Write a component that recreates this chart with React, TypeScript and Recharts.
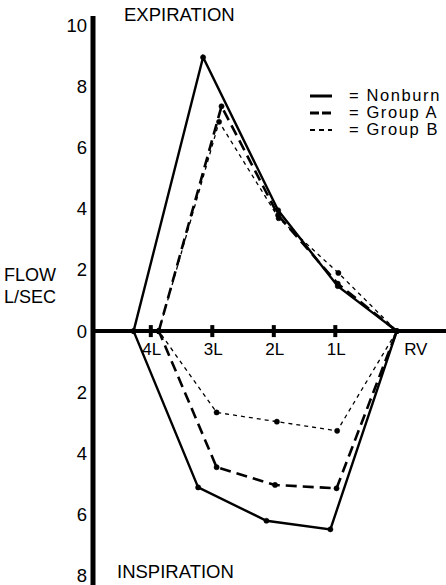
import { Line, LineChart, ReferenceDot, ReferenceLine, XAxis, YAxis } from "recharts";

// volume in litres above RV (RV = 0), flow in L/sec (inspiration negative)
const nonburnVol = [4.28, 3.15, 1.93, 0.96, 0, 1.08, 2.12, 3.23, 4.28];
const nonburnFlow = [0, 8.95, 3.95, 1.47, 0, -6.48, -6.2, -5.11, 0];

const groupAVol = [3.87, 2.85, 1.93, 0.96, 0, 0.98, 1.98, 2.93, 3.87];
const groupAFlow = [0, 7.35, 3.79, 1.55, 0, -5.14, -5.03, -4.45, 0];

const groupBVol = [3.87, 2.89, 1.92, 0.95, 0, 0.97, 1.95, 2.93, 3.87];
const groupBFlow = [0, 6.84, 3.69, 1.9, 0, -3.26, -2.96, -2.66, 0];

const volTicks = [4, 3, 2, 1, 0];
const volLabels = ["4L", "3L", "2L", "1L", "RV"];
const flowTicks = [-8, -6, -4, -2, 0, 2, 4, 6, 8, 10];

const font = "'Liberation Sans', Arial, Helvetica, sans-serif";

const toPoints = (vol: number[], flow: number[]) =>
  vol.map((v, i) => ({ vol: v, flow: flow[i] }));

const series = [
  { name: "Nonburn", data: toPoints(nonburnVol, nonburnFlow), width: 2.4, dash: undefined, legendDash: undefined },
  { name: "Group A", data: toPoints(groupAVol, groupAFlow), width: 2.6, dash: "11 6", legendDash: "9 3" },
  { name: "Group B", data: toPoints(groupBVol, groupBFlow), width: 1.3, dash: "4 4", legendDash: "5 4" },
];

const TickMark = (props: any) => {
  if (props.hidden) return <g />;
  return <rect x={props.cx - 2} y={props.cy - 6} width={4} height={12} fill="#000" />;
};

export default function App() {
  return (
    <div style={{ position: "absolute", left: 0, top: 0, width: 446, height: 585, background: "#fff", fontFamily: font }}>
      <LineChart width={446} height={585} margin={{ top: 16, right: 0, bottom: 0, left: 0 }}>
        <XAxis
          allowDataOverflow
          dataKey="vol"
          domain={[-0.8, 4.94]}
          hide
          reversed
          type="number"
        />
        <YAxis
          allowDataOverflow
          axisLine={{ stroke: "#000", strokeWidth: 5 }}
          domain={[-8.3, 10.3]}
          interval={0}
          tick={{ fill: "#000", fontSize: 18.5, fontFamily: font }}
          tickFormatter={(v: number) => String(Math.abs(v))}
          tickLine={false}
          tickMargin={0}
          ticks={flowTicks}
          type="number"
          width={93}
        />
        {series.map((s) => (
          <Line
            key={s.name}
            data={s.data}
            dataKey="flow"
            dot={{ r: 2.6, fill: "#000", stroke: "#000", strokeWidth: 0.5, strokeDasharray: "none" }}
            isAnimationActive={false}
            name={s.name}
            stroke="#000"
            strokeDasharray={s.dash}
            strokeWidth={s.width}
            type="linear"
          />
        ))}
        <ReferenceLine stroke="#000" strokeWidth={4} y={0} />
        {volTicks.map((v, i) => (
          <ReferenceDot
            key={v}
            label={{
              value: volLabels[i],
              position: "bottom",
              offset: 6,
              fill: "#000",
              fontSize: 17,
              fontFamily: font,
              dx: v === 0 ? 19 : 1,
            }}
            r={6}
            shape={(p: any) => <TickMark {...p} hidden={v === 0} />}
            x={v}
            y={0}
          />
        ))}
      </LineChart>

      <div style={{ position: "absolute", left: 124, top: 6, fontSize: 18.5, lineHeight: 1 }}>EXPIRATION</div>
      <div style={{ position: "absolute", left: 117, top: 563, fontSize: 18.5, lineHeight: 1 }}>INSPIRATION</div>
      <div style={{ position: "absolute", left: 4, top: 264, fontSize: 18, lineHeight: "22px" }}>
        FLOW
        <br />
        L/SEC
      </div>

      <div style={{ position: "absolute", left: 309, top: 87 }}>
        {series.map((s) => (
          <div key={s.name} style={{ display: "flex", alignItems: "center", height: 17 }}>
            <svg width={24} height={6}>
              <line
                stroke="#000"
                strokeDasharray={s.legendDash}
                strokeWidth={s.name === "Group B" ? 2 : 3}
                x1={1}
                x2={23}
                y1={3}
                y2={3}
              />
            </svg>
            <span style={{ marginLeft: 16, fontSize: 16.5, letterSpacing: 1.6, lineHeight: 1 }}>= {s.name}</span>
          </div>
        ))}
      </div>
    </div>
  );
}
